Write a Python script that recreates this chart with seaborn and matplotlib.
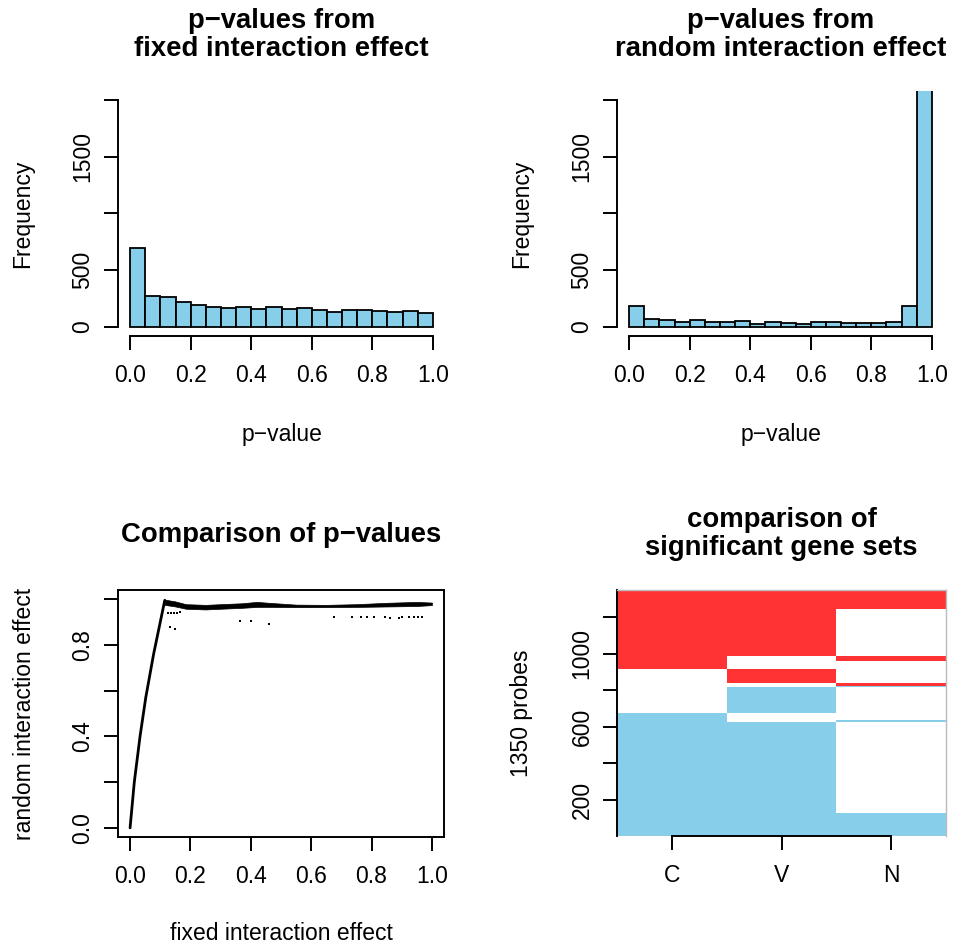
import numpy as np
import pandas as pd
import matplotlib
matplotlib.use("Agg")
import matplotlib.pyplot as plt
from matplotlib.colors import ListedColormap
import seaborn as sns

sns.set_style("ticks")
plt.rcParams['font.family'] = ['Liberation Sans', 'DejaVu Sans']
plt.rcParams['text.color'] = 'black'
plt.rcParams['axes.labelcolor'] = 'black'
plt.rcParams['xtick.color'] = 'black'
plt.rcParams['ytick.color'] = 'black'

SKY = "#87CEEB"
RED = "#FF3333"

# histogram bins and counts
bin_edges = [0.0, 0.05, 0.10, 0.15, 0.20, 0.25, 0.30, 0.35, 0.40, 0.45, 0.50,
             0.55, 0.60, 0.65, 0.70, 0.75, 0.80, 0.85, 0.90, 0.95, 1.0]
fixed_counts = [697, 271, 262, 221, 194, 174, 168, 174, 159, 174,
                159, 165, 147, 129, 150, 147, 144, 129, 141, 124]
random_counts = [185, 71, 65, 47, 59, 44, 47, 50, 29, 44,
                 35, 29, 41, 41, 35, 38, 32, 41, 182, 2814]

# comparison of p-values (fixed vs random)
rise_fixed = [0.0, 0.014, 0.033, 0.052, 0.078, 0.115]
rise_random = [0.0, 0.200, 0.400, 0.570, 0.760, 0.995]
band_fixed = [0.115, 0.15, 0.185, 0.25, 0.30, 0.37, 0.42, 0.46, 0.55, 0.65, 0.75, 0.85, 0.95, 1.0]
band_upper = [0.998, 0.990, 0.978, 0.975, 0.978, 0.982, 0.988, 0.984, 0.976, 0.975, 0.978, 0.984, 0.988, 0.985]
band_lower = [0.975, 0.968, 0.958, 0.955, 0.958, 0.962, 0.966, 0.966, 0.965, 0.965, 0.966, 0.968, 0.970, 0.974]
stray_fixed = [0.125, 0.135, 0.145, 0.155, 0.165, 0.132, 0.148, 0.363, 0.399, 0.459,
               0.676, 0.736, 0.764, 0.786, 0.808, 0.846, 0.862, 0.890, 0.901, 0.923, 0.940, 0.954, 0.967]
stray_random = [0.940, 0.940, 0.938, 0.940, 0.942, 0.878, 0.868, 0.904, 0.904, 0.892,
                0.923, 0.922, 0.922, 0.922, 0.922, 0.920, 0.919, 0.919, 0.920, 0.922, 0.922, 0.921, 0.922]

# significant gene sets: segment tops (probe index) and state (-1 down, 0 none, 1 up)
probe_total = 1350
C_tops = [675, 915, 1350]
C_states = [-1, 0, 1]
V_tops = [624, 675, 817, 838, 915, 988, 1350]
V_states = [-1, 0, -1, 0, 1, 0, 1]
N_tops = [128, 624, 635, 817, 823, 838, 961, 988, 1246, 1350]
N_states = [-1, 0, -1, 0, -1, 1, 0, 1, 0, 1]


def build_column(tops, states):
    col = []
    prev = 0
    for top, s in zip(tops, states):
        col += [s] * (top - prev)
        prev = top
    return col


W, H = 955, 947
fig = plt.figure(figsize=(W / 100, H / 100), dpi=100)


def px_axes(left, top, right, bottom):
    return fig.add_axes([left / W, 1 - bottom / H, (right - left) / W, (bottom - top) / H])


LW = 1.4
FS = 16.5
TFS = 19.8


def style_ticks(ax):
    ax.tick_params(axis='both', length=10, width=LW, direction='out', labelsize=FS, colors='black')
    ax.tick_params(axis='x', pad=10.5)
    ax.tick_params(axis='y', pad=7)
    for lab in ax.get_yticklabels():
        lab.set_rotation(90)
        lab.set_va('center')


def add_title(ax, text, offset_px, ax_h):
    ax.text(0.5, 1 + offset_px / ax_h, text, transform=ax.transAxes, ha='center', va='center',
            fontsize=TFS, fontweight='bold', linespacing=1.09, color='black')


def labels(ax, xlab, ylab, ax_w, ax_h, xoff=98, yoff=95.5):
    ax.set_xlabel(xlab, fontsize=FS, va='center')
    ax.set_ylabel(ylab, fontsize=FS, va='center')
    ax.xaxis.set_label_coords(0.5, -xoff / ax_h)
    ax.yaxis.set_label_coords(-yoff / ax_w, 0.5)


centers = [(a + b) / 2 for a, b in zip(bin_edges[:-1], bin_edges[1:])]
xt = [0.0, 0.2, 0.4, 0.6, 0.8, 1.0]

for ax, counts, title in [
    (px_axes(118, 91, 445, 336), fixed_counts, "p\u2212values from\nfixed interaction effect"),
    (px_axes(617, 91, 944, 336), random_counts, "p\u2212values from\nrandom interaction effect"),
]:
    sns.histplot(x=centers, weights=counts, bins=bin_edges, ax=ax, color=SKY,
                 edgecolor='black', linewidth=1.3, alpha=1)
    ax.set_xlim(-0.04, 1.04)
    ax.set_ylim(-80, 2080)
    ax.set_xticks(xt)
    ax.set_xticklabels([f"{v:.1f}" for v in xt])
    ax.set_yticks([0, 500, 1000, 1500, 2000])
    ax.set_yticklabels(['0', '500', '', '1500', ''])
    sns.despine(ax=ax)
    ax.spines['left'].set_bounds(0, 2000)
    ax.spines['bottom'].set_bounds(0, 1)
    for s in ['left', 'bottom']:
        ax.spines[s].set_linewidth(LW)
        ax.spines[s].set_color('black')
    style_ticks(ax)
    labels(ax, "p\u2212value", "Frequency", 327, 245)
    add_title(ax, title, 56, 245)

# comparison scatter
ax3 = px_axes(118, 590, 444, 837)
ax3.fill_between(band_fixed, band_lower, band_upper, color='black', linewidth=0.5)
sns.lineplot(x=rise_fixed, y=rise_random, sort=False, ax=ax3, color='black', linewidth=2.0)
sns.scatterplot(x=stray_fixed, y=stray_random, ax=ax3, color='black', marker='s', s=4, linewidth=0)
ax3.set_xlim(-0.04, 1.04)
ax3.set_ylim(-0.04, 1.04)
ax3.set_xticks(xt)
ax3.set_xticklabels([f"{v:.1f}" for v in xt])
ax3.set_yticks(xt)
ax3.set_yticklabels(['0.0', '', '0.4', '', '0.8', ''])
for s in ax3.spines.values():
    s.set_linewidth(LW)
    s.set_color('black')
style_ticks(ax3)
labels(ax3, "fixed interaction effect", "random interaction effect", 326, 247, xoff=96, yoff=93)
add_title(ax3, "Comparison of p\u2212values", 55, 247)

# gene set image
sets = pd.DataFrame({
    'C': build_column(C_tops, C_states),
    'V': build_column(V_tops, V_states),
    'N': build_column(N_tops, N_states),
})
ax4 = px_axes(617, 590, 946, 836)
sns.heatmap(sets, ax=ax4, cmap=ListedColormap([SKY, 'white', RED]), vmin=-1.5, vmax=1.5,
            cbar=False, yticklabels=False, linewidths=0)
ax4.set_ylim(0, probe_total)
ax4.set_yticks([200, 400, 600, 800, 1000, 1200])
ax4.set_yticklabels(['200', '', '600', '', '1000', ''])
ax4.set_xticklabels(['C', 'V', 'N'], rotation=0)
for name, s in ax4.spines.items():
    s.set_visible(True)
    s.set_linewidth(1.0)
    s.set_color('#BBBBBB')
ax4.spines['left'].set_color('black')
ax4.spines['left'].set_linewidth(LW)
ax4.spines['bottom'].set_color('black')
ax4.spines['bottom'].set_linewidth(LW)
ax4.spines['bottom'].set_bounds(0.5, 2.5)
ax4.axhline(0, color='#BBBBBB', linewidth=1.0, zorder=2)
style_ticks(ax4)
labels(ax4, "", "1350 probes", 329, 246, yoff=95.5)
add_title(ax4, "comparison of\nsignificant gene sets", 56, 246)

fig.savefig("out.png", dpi=100)
